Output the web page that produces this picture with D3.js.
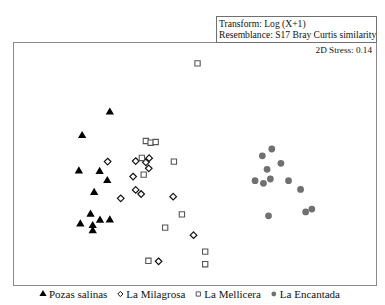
<!DOCTYPE html>
<html><head><meta charset="utf-8">
<script src="https://cdn.jsdelivr.net/npm/d3@7"></script>
<style>body{margin:0;background:#fff;} text{font-family:"Liberation Serif","Times New Roman",Times,"DejaVu Serif",serif;}</style>
</head><body><svg id="c" width="385" height="305" style="display:block"></svg>
<script>
const groups = ["Pozas salinas", "La Milagrosa", "La Mellicera", "La Encantada"];
const pozasX = [26.6,19.0,18.1,23.8,25.9,22.3,21.3,18.5,23.9,26.6,21.9,21.9];
const pozasY = [71.4,61.7,47.1,46.9,43.1,38.2,29.2,25.2,26.7,26.8,24.5,22.4];
const milagrosaX = [26.0,33.7,36.5,37.4,37.3,33.0,33.7,35.2,29.6,44.0,49.6,40.0];
const milagrosaY = [51.0,51.2,50.7,52.4,48.2,44.8,39.3,37.6,35.8,36.5,20.6,9.8];
const melliceraX = [36.5,37.8,39.2,35.4,35.9,44.2,46.4,41.8,37.2,50.7,52.8,52.8];
const melliceraY = [59.5,58.8,59.1,52.5,45.6,51.0,29.2,23.7,10.0,91.6,13.8,8.6];
const encantadaX = [71.1,68.5,73.6,69.8,66.5,68.8,70.7,75.7,79.0,70.2,80.4,82.1];
const encantadaY = [56.2,53.4,50.3,47.8,43.1,42.0,43.8,43.1,39.5,28.6,30.2,31.4];
const headerLines = ["Transform: Log (X+1)", "Resemblance: S17 Bray Curtis similarity"];
const stressLabel = "2D Stress: 0.14";

const FONT = '"Liberation Serif","Times New Roman",Times,"DejaVu Serif",serif';
const svg = d3.select("#c");
const frame = {l: 13.5, r: 376.5, t: 42.5, b: 285.5};
const x = d3.scaleLinear().domain([0, 100]).range([13, 377]);
const y = d3.scaleLinear().domain([0, 100]).range([285, 43]);

svg.append("rect").attr("x", frame.l).attr("y", frame.t)
  .attr("width", frame.r - frame.l).attr("height", frame.b - frame.t)
  .attr("fill", "none").attr("stroke", "#8a8a8a").attr("stroke-width", 1);

// header box
svg.append("rect").attr("x", 216.5).attr("y", 16.5).attr("width", 160).attr("height", 26)
  .attr("fill", "#fff").attr("stroke", "#707070").attr("stroke-width", 1);
svg.selectAll("text.hdr").data(headerLines).enter().append("text")
  .attr("class", "hdr").attr("x", 219).attr("y", (d, i) => 27 + i * 11)
  .attr("font-family", FONT).attr("font-size", 9.6).attr("fill", "#111").text(d => d);
svg.append("text").attr("x", 372).attr("y", 53).attr("text-anchor", "end")
  .attr("font-family", FONT).attr("font-size", 9.2).attr("fill", "#111").text(stressLabel);

const diamond = r => `M0,${-r}L${r},0L0,${r}L${-r},0Z`;
const sym = {
  tri: d3.symbol().type(d3.symbolTriangle).size(30),
  dia: diamond(3.3),
  sq: d3.symbol().type(d3.symbolSquare).size(28),
  circ: d3.symbol().type(d3.symbolCircle).size(36)
};
const styles = [
  {xs: pozasX, ys: pozasY, path: sym.tri, fill: "#000", stroke: "none", sw: 0},
  {xs: milagrosaX, ys: milagrosaY, path: sym.dia, fill: "#fff", stroke: "#111", sw: 1.2},
  {xs: melliceraX, ys: melliceraY, path: sym.sq, fill: "#fff", stroke: "#555", sw: 1.1},
  {xs: encantadaX, ys: encantadaY, path: sym.circ, fill: "#707070", stroke: "none", sw: 0}
];
styles.forEach(s => {
  svg.append("g").selectAll("path").data(s.xs.map((v, i) => [v, s.ys[i]])).enter()
    .append("path").attr("d", s.path)
    .attr("transform", d => `translate(${x(d[0])},${y(d[1])})`)
    .attr("fill", s.fill).attr("stroke", s.stroke).attr("stroke-width", s.sw);
});

// legend (flow layout)
const legSym = [
  d3.symbol().type(d3.symbolTriangle).size(22)(),
  diamond(2.6),
  d3.symbol().type(d3.symbolSquare).size(18)(),
  d3.symbol().type(d3.symbolCircle).size(18)()
];
const lg = svg.append("g");
let cur = 40;
groups.forEach((g, i) => {
  const st = styles[i];
  lg.append("path").attr("d", legSym[i]).attr("transform", `translate(${cur + 3},294)`)
    .attr("fill", st.fill).attr("stroke", st.stroke).attr("stroke-width", st.sw ? 1 : 0);
  const t = lg.append("text").attr("x", cur + 9).attr("y", 298).attr("font-family", FONT)
    .attr("font-size", 11).attr("fill", "#111").text(g);
  cur = cur + 9 + t.node().getComputedTextLength() + 10;
});
</script></body></html>
